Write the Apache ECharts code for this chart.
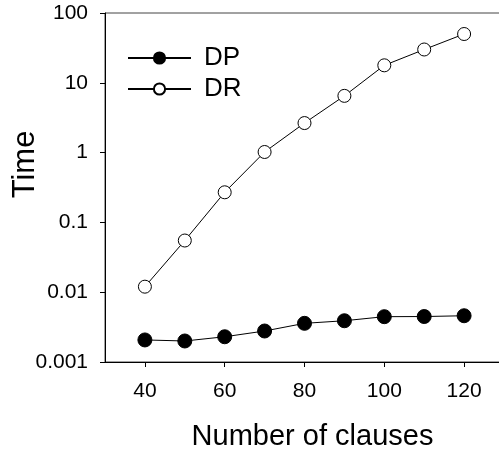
<!DOCTYPE html>
<html>
<head>
<meta charset="utf-8">
<script src="https://cdn.jsdelivr.net/npm/echarts@6/dist/echarts.min.js"></script>
<style>
  html, body { margin: 0; padding: 0; background: #fff; }
  #chart { width: 499px; height: 449px; }
</style>
</head>
<body>
<div id="chart"></div>
<script>
  // data
  var clauses = [40, 50, 60, 70, 80, 90, 100, 110, 120]
  var dpTime = [0.00207, 0.0020, 0.0023, 0.00278, 0.00358, 0.0039, 0.00446, 0.00448, 0.0046]
  var drTime = [0.012, 0.055, 0.27, 1.02, 2.65, 6.5, 17.8, 30, 50]
  var xTicks = [40, 60, 80, 100, 120]
  var yTicks = ['0.001', '0.01', '0.1', '1', '10', '100']

  function pairs(xs, ys) {
    return xs.map(function (x, i) { return [x, ys[i]] })
  }

  var font = 'Liberation Sans, Arial, sans-serif'
  var chart = echarts.init(document.getElementById('chart'))

  chart.setOption({
    backgroundColor: '#fff',
    animation: false,
    grid: {
      left: 105,
      top: 13,
      right: -5,
      bottom: 87,
      containLabel: false,
      outerBoundsMode: 'none',
      show: true,
      borderColor: '#444',
      borderWidth: 1
    },
    legend: {
      left: 127,
      top: 45,
      padding: 0,
      orient: 'vertical',
      itemWidth: 63,
      itemHeight: 14,
      itemGap: 5,
      textStyle: {
        color: '#000',
        fontFamily: font,
        fontSize: 26,
        lineHeight: 26,
        padding: [0, 0, 0, 8]
      },
      data: ['DP', 'DR']
    },
    xAxis: {
      type: 'value',
      min: 30,
      max: 130,
      name: 'Number of clauses',
      nameLocation: 'middle',
      nameGap: 60,
      nameMoveOverlap: false,
      nameTextStyle: { color: '#000', fontFamily: font, fontSize: 29, padding: [0, 0, 0, 16] },
      splitLine: { show: false },
      axisLine: { show: true, lineStyle: { color: '#000', width: 1 } },
      axisTick: { show: true, inside: false, length: 5, customValues: xTicks, lineStyle: { color: '#000' } },
      axisLabel: {
        customValues: xTicks,
        color: '#000',
        fontFamily: font,
        fontSize: 21,
        margin: 19
      }
    },
    yAxis: {
      type: 'log',
      logBase: 10,
      min: 0.001,
      max: 100,
      name: 'Time',
      nameLocation: 'middle',
      nameGap: 64,
      nameRotate: 90,
      nameMoveOverlap: false,
      nameTextStyle: { color: '#000', fontFamily: font, fontSize: 31, padding: [0, 0, 0, 46] },
      splitLine: { show: false },
      minorTick: { show: false },
      axisLine: { show: true, lineStyle: { color: '#000', width: 1 } },
      axisTick: { show: true, inside: false, length: 5, lineStyle: { color: '#000' } },
      axisLabel: {
        color: '#000',
        fontFamily: font,
        fontSize: 21,
        margin: 17,
        formatter: function (v) {
          var e = Math.round(Math.log10(v))
          return yTicks[e + 3]
        }
      }
    },
    series: [
      {
        name: 'DP',
        type: 'line',
        data: pairs(clauses, dpTime),
        symbol: 'circle',
        symbolSize: 14,
        itemStyle: { color: '#000', borderColor: '#000', borderWidth: 1 },
        lineStyle: { color: '#000', width: 1 },
        z: 3
      },
      {
        name: 'DR',
        type: 'line',
        data: pairs(clauses, drTime),
        symbol: 'circle',
        symbolSize: 13,
        itemStyle: { color: '#fff', borderColor: '#000', borderWidth: 1 },
        lineStyle: { color: '#000', width: 1 },
        z: 3
      }
    ]
  })
</script>
</body>
</html>
